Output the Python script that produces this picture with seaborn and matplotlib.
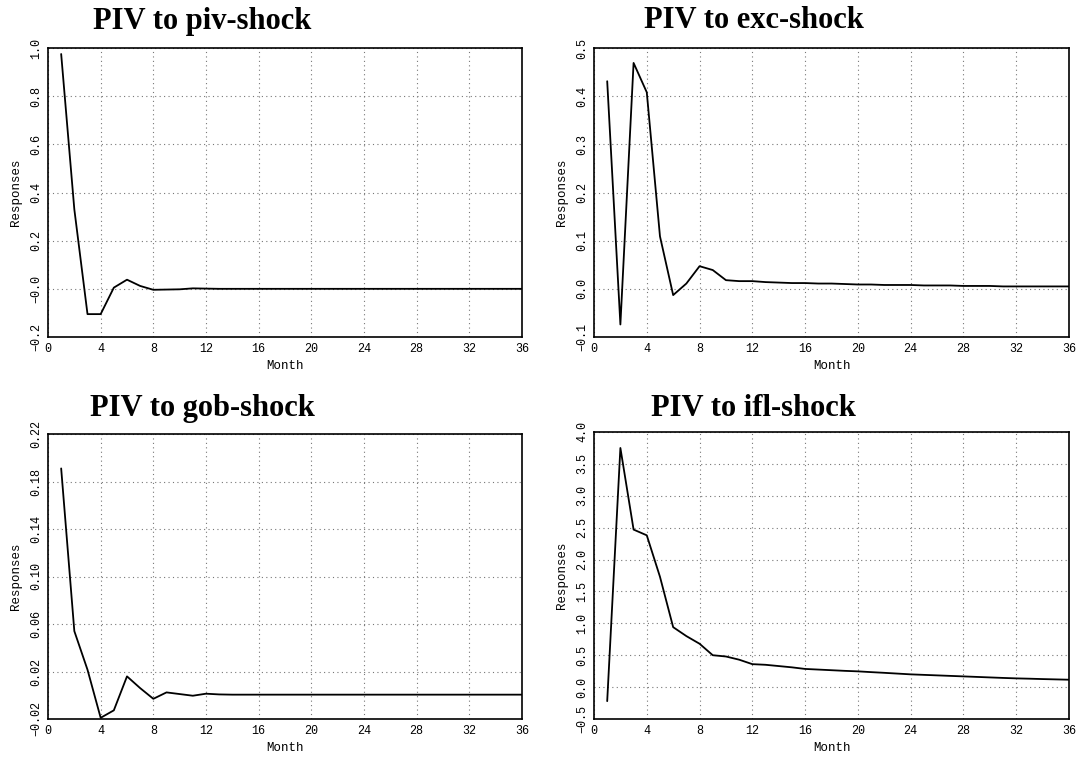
import numpy as np
import pandas as pd
import seaborn as sns
import matplotlib.pyplot as plt

# impulse responses of PIV, months 1..36
months = list(range(1, 37))

piv_shock = [0.975, 0.33, -0.105, -0.105, 0.005, 0.038, 0.012, -0.004, -0.003, -0.002,
             0.002, 0.001, 0.0, 0.0, 0.0, 0.0, 0.0, 0.0, 0.0, 0.0,
             0.0, 0.0, 0.0, 0.0, 0.0, 0.0, 0.0, 0.0, 0.0, 0.0,
             0.0, 0.0, 0.0, 0.0, 0.0, 0.0]

exc_shock = [0.431, -0.074, 0.469, 0.408, 0.109, -0.013, 0.011, 0.047, 0.039, 0.018,
             0.016, 0.016, 0.014, 0.013, 0.012, 0.012, 0.011, 0.011, 0.010, 0.009,
             0.009, 0.008, 0.008, 0.008, 0.007, 0.007, 0.007, 0.006, 0.006, 0.006,
             0.005, 0.005, 0.005, 0.005, 0.005, 0.005]

gob_shock = [0.191, 0.054, 0.0215, -0.019, -0.0127, 0.0159, 0.006, -0.003, 0.0024, 0.001,
             -0.0004, 0.0013, 0.0007, 0.0005, 0.0005, 0.0005, 0.0005, 0.0005, 0.0005, 0.0005,
             0.0005, 0.0005, 0.0005, 0.0005, 0.0005, 0.0005, 0.0005, 0.0005, 0.0005, 0.0005,
             0.0005, 0.0005, 0.0005, 0.0005, 0.0005, 0.0005]

ifl_shock = [-0.22, 3.75, 2.47, 2.38, 1.73, 0.94, 0.80, 0.68, 0.50, 0.48,
             0.43, 0.36, 0.35, 0.33, 0.31, 0.285, 0.275, 0.265, 0.255, 0.247,
             0.235, 0.224, 0.212, 0.200, 0.192, 0.184, 0.176, 0.168, 0.160, 0.152,
             0.144, 0.137, 0.132, 0.126, 0.121, 0.116]

titles = ["PIV to piv-shock", "PIV to exc-shock", "PIV to gob-shock", "PIV to ifl-shock"]

x_ticks = [0, 4, 8, 12, 16, 20, 24, 28, 32, 36]

piv_yticks = [-0.2, 0.0, 0.2, 0.4, 0.6, 0.8, 1.0]
piv_ylabels = ["\u22120.2", "\u22120.0", "0.2", "0.4", "0.6", "0.8", "1.0"]
exc_yticks = [-0.1, 0.0, 0.1, 0.2, 0.3, 0.4, 0.5]
exc_ylabels = ["\u22120.1", "0.0", "0.1", "0.2", "0.3", "0.4", "0.5"]
gob_yticks = [-0.02, 0.02, 0.06, 0.10, 0.14, 0.18, 0.22]
gob_ylabels = ["\u22120.02", "0.02", "0.06", "0.10", "0.14", "0.18", "0.22"]
ifl_yticks = [-0.5, 0.0, 0.5, 1.0, 1.5, 2.0, 2.5, 3.0, 3.5, 4.0]
ifl_ylabels = ["\u22120.5", "0.0", "0.5", "1.0", "1.5", "2.0", "2.5", "3.0", "3.5", "4.0"]

df = pd.DataFrame({"Month": months, "piv": piv_shock, "exc": exc_shock,
                   "gob": gob_shock, "ifl": ifl_shock})

sns.set_theme(style="white")
plt.rcParams["font.family"] = ["Liberation Mono", "DejaVu Sans Mono"]
plt.rcParams["text.color"] = "black"
plt.rcParams["axes.labelcolor"] = "black"
plt.rcParams["xtick.color"] = "black"
plt.rcParams["ytick.color"] = "black"

W, H = 1078, 761
fig = plt.figure(figsize=(W / 100, H / 100), dpi=100)

# axes boxes in pixels: left, top, right, bottom
boxes = [(48, 48, 522, 337), (594, 48, 1069, 337),
         (48, 434, 522, 719), (594, 432, 1069, 719)]
title_pos = [(202, 21), (754, 21), (202, 409), (753, 409)]
cols = ["piv", "exc", "gob", "ifl"]
yticks = [piv_yticks, exc_yticks, gob_yticks, ifl_yticks]
ylabels = [piv_ylabels, exc_ylabels, gob_ylabels, ifl_ylabels]

for i in range(4):
    l, t, r, b = boxes[i]
    ax = fig.add_axes([l / W, 1 - b / H, (r - l) / W, (b - t) / H])
    sns.lineplot(data=df, x="Month", y=cols[i], color="black", linewidth=1.3, ax=ax)
    ax.set_xlim(0, 36)
    ax.set_ylim(yticks[i][0], yticks[i][-1])
    ax.set_xticks(x_ticks)
    ax.set_xticklabels([str(v) for v in x_ticks], fontsize=8.5)
    ax.set_yticks(yticks[i])
    ax.set_yticklabels(ylabels[i], fontsize=8.5, rotation=90, va="center")
    ax.tick_params(length=0, pad=4)
    ax.grid(True, color="#777777", linestyle=(0, (1, 3)), linewidth=0.8)
    for s in ax.spines.values():
        s.set_color("black")
        s.set_linewidth(1.2)
    ax.set_xlabel("Month", fontsize=9, labelpad=4)
    ax.set_ylabel("Responses", fontsize=9, labelpad=6)
    tx, ty = title_pos[i]
    fig.text(tx / W, 1 - ty / H, titles[i], ha="center", va="center", color="black",
             fontsize=22, fontweight="bold", family="Liberation Serif")

fig.savefig("out.png", dpi=100)
